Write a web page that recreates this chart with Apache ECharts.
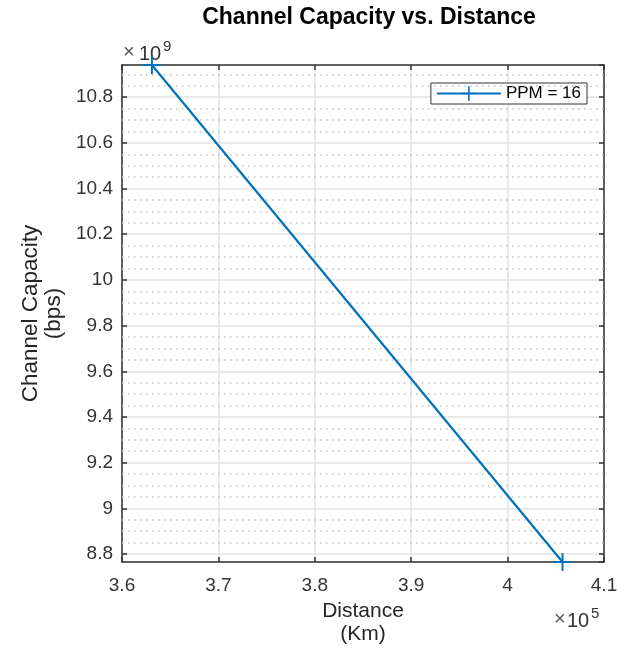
<!DOCTYPE html>
<html>
<head>
<meta charset="utf-8">
<title>Channel Capacity vs. Distance</title>
<script src="https://cdn.jsdelivr.net/npm/echarts@6/dist/echarts.min.js"></script>
<style>
  html, body { margin: 0; padding: 0; background: #fff; }
  #chart { width: 625px; height: 662px; }
</style>
</head>
<body>
<div id="chart"></div>
<script>
// Earth–Moon distance (perigee, apogee) in km and the resulting capacity in bps
const distanceKm = [363104, 405696];
const capacityBps = [10.941e9, 8.765e9];
const seriesName = 'PPM = 16';

// Axis ranges (x in km, y in bps)
const xRange = [360000, 410000];
const xStep = 10000;
const yRange = [8.765e9, 10.941e9];
const yMinorStep = 0.05e9;

const FONT = 'Liberation Sans, Arial, Helvetica, sans-serif';
const AXIS_COLOR = '#333333';
const LINE_COLOR = '#0072BD';

// Dotted minor grid rows between the major ticks
const minorRows = [];
for (let k = Math.ceil(yRange[0] / yMinorStep); k * yMinorStep <= yRange[1]; k++) {
  if (k % 4 !== 0) minorRows.push({ yAxis: k * yMinorStep });
}

const plusPath = 'path://M0,4.45 L10,4.45 L10,5.55 L0,5.55 Z M4.45,0 L5.55,0 L5.55,10 L4.45,10 Z';

const fmt = (v, scale) => String(parseFloat((v / scale).toFixed(2)));

const chart = echarts.init(document.getElementById('chart'), null, { renderer: 'canvas' });

chart.setOption({
  animation: false,
  backgroundColor: '#ffffff',
  textStyle: { fontFamily: FONT },
  title: {
    text: 'Channel Capacity vs. Distance',
    left: 364,
    top: 1,
    textAlign: 'center',
    textStyle: { fontFamily: FONT, fontSize: 23, fontWeight: 'bold', color: '#000' }
  },
  grid: { left: 122, right: 21, top: 65, bottom: 100, containLabel: false },
  legend: {
    data: [seriesName],
    right: 38,
    top: 83,
    orient: 'vertical',
    backgroundColor: '#fff',
    borderColor: AXIS_COLOR,
    borderWidth: 1,
    borderRadius: 0,
    padding: [2, 6, 2, 5],
    itemWidth: 64,
    itemHeight: 18,
    textStyle: { fontFamily: FONT, fontSize: 17, color: '#000' }
  },
  xAxis: [{
    type: 'value',
    min: xRange[0], max: xRange[1], interval: xStep,
    position: 'bottom',
    name: 'Distance\n(Km)',
    nameLocation: 'middle',
    nameGap: 32,
    nameTextStyle: { fontFamily: FONT, fontSize: 21, color: '#262626', lineHeight: 23 },
    axisLine: { show: true, onZero: false, lineStyle: { color: AXIS_COLOR, width: 1.5 } },
    axisTick: { show: true, inside: true, length: 5, lineStyle: { color: AXIS_COLOR, width: 1.5 } },
    axisLabel: { margin: 14, fontFamily: FONT, fontSize: 19, color: '#333', formatter: v => fmt(v, 1e5) },
    splitLine: { show: true, lineStyle: { color: '#e2e2e2', width: 1.5 } }
  }, {
    type: 'value',
    min: xRange[0], max: xRange[1], interval: xStep,
    position: 'top',
    axisLine: { show: true, onZero: false, lineStyle: { color: AXIS_COLOR, width: 1.5 } },
    axisTick: { show: true, inside: true, length: 5, lineStyle: { color: AXIS_COLOR, width: 1.5 } },
    axisLabel: { show: false },
    splitLine: { show: false }
  }],
  yAxis: [{
    type: 'value',
    min: yRange[0], max: yRange[1], splitNumber: 10,
    position: 'left',
    name: 'Channel Capacity\n(bps)',
    nameLocation: 'middle',
    nameGap: 57,
    nameTextStyle: { fontFamily: FONT, fontSize: 22.5, color: '#262626', lineHeight: 23 },
    axisLine: { show: true, onZero: false, lineStyle: { color: AXIS_COLOR, width: 1.5 } },
    axisTick: { show: true, inside: true, length: 5, lineStyle: { color: AXIS_COLOR, width: 1.5 } },
    axisLabel: {
      margin: 9, fontFamily: FONT, fontSize: 19, color: '#333',
      showMinLabel: false, showMaxLabel: false,
      formatter: v => fmt(v, 1e9)
    },
    splitLine: { show: true, lineStyle: { color: '#e2e2e2', width: 1.5 } }
  }, {
    type: 'value',
    min: yRange[0], max: yRange[1], splitNumber: 10,
    position: 'right',
    axisLine: { show: true, onZero: false, lineStyle: { color: AXIS_COLOR, width: 1.5 } },
    axisTick: { show: true, inside: true, length: 5, lineStyle: { color: AXIS_COLOR, width: 1.5 } },
    axisLabel: { show: false },
    splitLine: { show: false }
  }],
  series: [{
    // carrier for the dotted minor grid rows, drawn beneath the data line
    name: 'minor-grid',
    type: 'line',
    xAxisIndex: 0, yAxisIndex: 0,
    data: distanceKm.map((d, i) => [d, capacityBps[i]]),
    showSymbol: false,
    lineStyle: { opacity: 0 },
    silent: true,
    z: 1,
    markLine: {
      silent: true,
      symbol: ['none', 'none'],
      label: { show: false },
      lineStyle: { color: '#c2c2c2', width: 1.5, type: [1.5, 4.5] },
      data: minorRows
    }
  }, {
    name: seriesName,
    type: 'line',
    xAxisIndex: 0, yAxisIndex: 0,
    data: distanceKm.map((d, i) => [d, capacityBps[i]]),
    symbol: plusPath,
    symbolSize: 18,
    showSymbol: true,
    clip: false,
    itemStyle: { color: LINE_COLOR },
    lineStyle: { color: LINE_COLOR, width: 2.2 },
    z: 5
  }],
  graphic: [
    { type: 'text', x: 123, y: 62, style: { text: '×', fontFamily: FONT, fontSize: 20, fill: '#555', verticalAlign: 'bottom', align: 'left' } },
    { type: 'text', x: 139, y: 64, style: { text: '10', fontFamily: FONT, fontSize: 20, fill: '#333', verticalAlign: 'bottom', align: 'left' } },
    { type: 'text', x: 163, y: 39, style: { text: '9', fontFamily: FONT, fontSize: 15, fill: '#333', verticalAlign: 'top', align: 'left' } },
    { type: 'text', x: 554, y: 629, style: { text: '×', fontFamily: FONT, fontSize: 20, fill: '#555', verticalAlign: 'bottom', align: 'left' } },
    { type: 'text', x: 567, y: 631, style: { text: '10', fontFamily: FONT, fontSize: 20, fill: '#333', verticalAlign: 'bottom', align: 'left' } },
    { type: 'text', x: 591, y: 606, style: { text: '5', fontFamily: FONT, fontSize: 15, fill: '#333', verticalAlign: 'top', align: 'left' } }
  ]
});
</script>
</body>
</html>
